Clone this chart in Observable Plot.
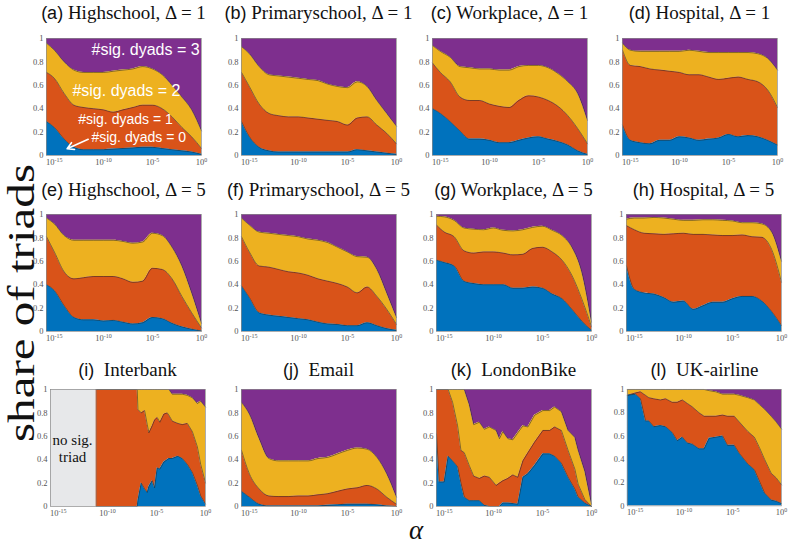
<!DOCTYPE html>
<html><head><meta charset="utf-8">
<script src="https://cdn.jsdelivr.net/npm/d3@7"></script>
<script src="https://cdn.jsdelivr.net/npm/@observablehq/plot@0.6"></script>
<style>
body{margin:0;background:#fff;}
#fig{position:relative;width:789px;height:547px;overflow:hidden;background:#fff;}
.ttl{position:absolute;font-family:"Liberation Serif",serif;font-size:19px;color:#111;white-space:pre;transform:translate(-50%,-50%);line-height:1;}
.ttl .lt{font-family:"Liberation Sans",sans-serif;font-size:18px;}
.pn{position:absolute;}
.pn svg{overflow:visible;}
</style></head><body><div id="fig"></div><script>
// ---------------- data ----------------
// common alpha grid (log10 alpha) for the smooth panels
const G = [-15.8,-15,-14,-13,-12,-11,-10,-9,-8,-7,-6,-5,-4,-3,-2,-1,0];
const xTickExps = [-15,-10,-5,0];
const yTickValues = [0,0.2,0.4,0.6,0.8,1];
const seriesNames = ["#sig. dyads = 0","#sig. dyads = 1","#sig. dyads = 2","#sig. dyads = 3"];
const panelLetters = ["(a)","(b)","(c)","(d)","(e)","(f)","(g)","(h)","(i)","(j)","(k)","(l)"];
const panelNames = ["Highschool, \u0394 = 1","Primaryschool, \u0394 = 1","Workplace, \u0394 = 1","Hospital, \u0394 = 1",
  "Highschool, \u0394 = 5","Primaryschool, \u0394 = 5","Workplace, \u0394 = 5","Hospital, \u0394 = 5",
  " Interbank"," Email"," LondonBike"," UK-airline"];
// cumulative shares: top0 = share with 0 sig. dyads, top1 = 0..1, top2 = 0..2
const aTop0=[.29,.24,.14,.07,.05,.05,.05,.055,.06,.065,.07,.07,.06,.05,.04,.03,.01];
const aTop1=[.71,.66,.53,.43,.41,.40,.39,.37,.39,.41,.43,.43,.40,.33,.24,.16,.06];
const aTop2=[.96,.90,.80,.73,.71,.71,.71,.72,.73,.74,.76,.74,.69,.60,.50,.39,.21];
const bTop0=[.29,.16,.07,.04,.03,.03,.03,.03,.03,.03,.03,.03,.05,.04,.03,.02,.01];
const bTop1=[.71,.59,.44,.36,.34,.33,.33,.32,.31,.30,.29,.26,.32,.33,.26,.19,.10];
const bTop2=[.93,.87,.76,.69,.68,.67,.66,.65,.64,.61,.59,.58,.63,.59,.47,.36,.25];
const cTop0=[.40,.36,.29,.21,.14,.14,.13,.11,.11,.13,.15,.16,.14,.12,.09,.04,.01];
const cTop1=[.79,.71,.63,.50,.47,.47,.44,.42,.41,.47,.51,.50,.47,.42,.34,.23,.10];
const cTop2=[.94,.89,.84,.76,.75,.74,.74,.73,.73,.76,.77,.77,.75,.70,.63,.53,.30];
const dTop0=[.26,.13,.11,.10,.13,.13,.16,.15,.13,.14,.15,.18,.16,.17,.16,.13,.09];
const dTop1=[.90,.77,.76,.74,.73,.72,.71,.69,.69,.67,.65,.66,.67,.65,.63,.56,.41];
const dTop2=[.96,.90,.89,.89,.89,.89,.89,.90,.89,.88,.88,.88,.88,.88,.87,.83,.73];
const eTop0=[.40,.35,.22,.12,.10,.10,.09,.095,.08,.065,.075,.12,.11,.07,.04,.02,.005];
const eTop1=[.81,.68,.51,.45,.46,.47,.47,.47,.45,.42,.43,.54,.53,.45,.30,.16,.03];
const eTop2=[.97,.92,.82,.78,.78,.78,.78,.78,.77,.755,.765,.84,.82,.72,.56,.33,.07];
const fTop0=[.39,.29,.16,.14,.13,.12,.11,.10,.08,.065,.06,.05,.05,.075,.05,.025,.01];
const fTop1=[.81,.68,.56,.55,.53,.51,.50,.48,.45,.43,.41,.38,.33,.38,.30,.19,.06];
const fTop2=[.97,.91,.85,.84,.83,.82,.81,.79,.78,.76,.72,.68,.64,.635,.53,.33,.12];
const gTop0=[.61,.59,.56,.43,.41,.40,.40,.40,.37,.37,.38,.37,.32,.28,.19,.09,.01];
const gTop1=[.91,.85,.81,.69,.67,.68,.68,.67,.655,.66,.71,.72,.68,.61,.48,.28,.04];
const gTop2=[.985,.98,.95,.885,.875,.87,.885,.865,.86,.87,.89,.90,.865,.82,.72,.51,.08];
const hTop0=[.56,.36,.33,.32,.29,.25,.26,.19,.22,.25,.25,.28,.30,.30,.26,.17,.05];
const hTop1=[.905,.87,.84,.835,.83,.835,.84,.83,.83,.825,.82,.82,.825,.81,.805,.70,.42];
const hTop2=[.96,.97,.97,.975,.97,.96,.95,.95,.955,.955,.95,.945,.93,.93,.92,.85,.60];
const iAlpha=[-11.14,-6.96,-6.89,-6.55,-6.21,-5.94,-5.77,-5.43,-5.19,-4.92,-4.65,-4.24,-3.90,-3.73,-3.39,-2.81,-2.36,-1.85,-1.34,-0.83,-0.49,0];
const iTop0=[0,0,.05,.20,.15,.12,.17,.22,.16,.33,.32,.38,.40,.41,.41,.43,.41,.36,.29,.18,.09,.02];
const iTop1=[1,1,.83,.80,.82,.70,.63,.69,.74,.76,.72,.79,.80,.78,.73,.71,.70,.71,.64,.51,.36,.20];
const iTop2=[1,1,1,1,1,1,1,1,1,1,1,1,1,1,.96,.96,.96,.95,.93,.88,.90,.85];
const noSigEnd = -11.14;
const jTop0=[.13,.08,.02,.005,.005,.005,.005,.005,.005,.01,.015,.02,.02,.02,.015,.005,0];
const jTop1=[.48,.28,.15,.09,.085,.085,.09,.09,.10,.11,.13,.15,.16,.18,.15,.08,.02];
const jTop2=[.89,.79,.58,.41,.39,.39,.39,.39,.41,.42,.45,.48,.50,.49,.42,.28,.08];
const kAlpha=[-15.8,-15.53,-15.02,-14.61,-14.16,-13.65,-13.31,-12.97,-12.46,-12.01,-11.43,-10.92,-10.41,-9.72,-9.38,-9.04,-8.53,-8.02,-7.51,-6.99,-6.48,-5.80,-4.95,-4.26,-3.75,-3.07,-2.39,-1.70,-1.36,-0.68,0];
const kTop0=[.62,.21,.21,.43,.39,.34,.20,.08,.05,.05,.05,.01,0,0,0,.03,.03,.025,.02,.25,.28,.35,.45,.45,.43,.37,.25,.15,.08,.03,0];
const kTop1=[1,1,1,1,.89,.69,.48,.46,.35,.26,.24,.26,.25,.18,.20,.22,.24,.27,.25,.39,.46,.55,.65,.65,.68,.65,.48,.32,.19,.06,0];
const kTop2=[1,1,1,1,1,1,1,1,.87,.70,.72,.66,.68,.65,.58,.64,.58,.57,.63,.69,.68,.78,.82,.82,.85,.81,.65,.59,.48,.30,.02];
const lAlpha=[-15.8,-14.98,-14.46,-13.94,-13.60,-13.09,-12.40,-11.88,-11.20,-10.68,-10.16,-9.65,-9.13,-8.45,-7.93,-7.42,-6.73,-6.04,-5.53,-4.84,-4.32,-3.46,-2.78,-2.26,-1.74,-1.06,-0.54,0];
const lTop0=[.95,.96,.92,.73,.73,.68,.69,.68,.63,.56,.59,.54,.53,.49,.49,.58,.59,.60,.52,.52,.45,.36,.31,.21,.11,.05,.04,.02];
const lTop1=[.95,.97,.98,.95,.93,.92,.91,.92,.89,.89,.91,.88,.85,.80,.77,.77,.77,.78,.77,.77,.72,.64,.59,.50,.40,.28,.24,.18];
const lTop2=[1,1,1,1,1,1,1,1,1,1,1,1,1,1,1,.99,.98,.96,.96,.96,.95,.93,.91,.87,.83,.77,.72,.66];
// annotations of panel (a): [text, log10 alpha, share]
const annoBig = [["#sig. dyads = 3",-5.7,0.905],["#sig. dyads = 2",-7.65,0.556]];
const annoSmall = [["#sig. dyads = 1",-7.75,0.31],["#sig. dyads = 0",-6.4,0.155]];
const annoArrow = [-11.55,0.138,-13.7,0.058];

// ---------------- layout / style ----------------
const colors = ["#0072BD","#D95319","#EDB120","#7E2F8E"];
const panelLeft = [46,241,432,622, 46,241,436,626, 50,241,436,627];
const rowTop = [38,214,389];
const titleY = [12,189,369];
const PW = 155, PH = 117, mL = 30, mR = 8, mT = 4, mB = 16;

const panels = [
  [G,aTop0,aTop1,aTop2],[G,bTop0,bTop1,bTop2],[G,cTop0,cTop1,cTop2],[G,dTop0,dTop1,dTop2],
  [G,eTop0,eTop1,eTop2],[G,fTop0,fTop1,fTop2],[G,gTop0,gTop1,gTop2],[G,hTop0,hTop1,hTop2],
  [iAlpha,iTop0,iTop1,iTop2],[G,jTop0,jTop1,jTop2],[kAlpha,kTop0,kTop1,kTop2],[lAlpha,lTop0,lTop1,lTop2]
];
const jagged = new Set([8,10,11]);
const fig = document.getElementById("fig");
const ns = "http://www.w3.org/2000/svg";

panels.forEach(([xs,t0,t1,t2], p) => {
  const rows = xs.map((e,i) => ({a: 10**e, t0: t0[i], t1: t1[i], t2: t2[i], top: 1, bot: 0}));
  const curve = jagged.has(p) ? "linear" : "monotone-x";
  const marks = [];
  if (p === 8) {
    marks.push(Plot.rect([{x1: 10**-15.8, x2: 10**noSigEnd}], {x1:"x1", x2:"x2", y1:0, y2:1, fill:"#e7e8ea"}));
  }
  marks.push(
    Plot.areaY(rows, {x:"a", y1:"t2", y2:"top", fill: colors[3], curve}),
    Plot.areaY(rows, {x:"a", y1:"t1", y2:"t2", fill: colors[2], curve}),
    Plot.areaY(rows, {x:"a", y1:"t0", y2:"t1", fill: colors[1], curve}),
    Plot.areaY(rows, {x:"a", y1:"bot", y2:"t0", fill: colors[0], curve}),
    Plot.lineY(rows, {x:"a", y:"t2", stroke:"#2a2a2a", strokeWidth:0.55, curve}),
    Plot.lineY(rows, {x:"a", y:"t1", stroke:"#2a2a2a", strokeWidth:0.55, curve}),
    Plot.lineY(rows, {x:"a", y:"t0", stroke:"#2a2a2a", strokeWidth:0.55, curve})
  );
  if (p === 8) {
    marks.push(Plot.ruleX([10**noSigEnd], {y1:0, y2:1, stroke:"#777", strokeWidth:0.6}));
    marks.push(Plot.text([{e:-13.55, s:0.5, t:"no sig.\ntriad"}], {x: d=>10**d.e, y:"s", text:"t", fontSize:15, fontFamily:"Liberation Serif", fill:"#111", lineHeight:1.1}));
  }
  if (p === 0) {
    marks.push(Plot.text(annoBig, {x: d=>10**d[1], y: d=>d[2], text: d=>d[0], fill:"white", fontSize:16, fontFamily:"Liberation Sans"}));
    marks.push(Plot.text(annoSmall, {x: d=>10**d[1], y: d=>d[2], text: d=>d[0], fill:"white", fontSize:14, fontFamily:"Liberation Sans"}));
    marks.push(Plot.arrow([annoArrow], {x1: d=>10**d[0], y1: d=>d[1], x2: d=>10**d[2], y2: d=>d[3], stroke:"white", strokeWidth:1.6, headLength:7}));
  }
  marks.push(Plot.frame({stroke:"#8a8a8a", strokeWidth:0.7}));

  const svg = Plot.plot({
    width: PW + mL + mR, height: PH + mT + mB,
    marginLeft: mL, marginRight: mR, marginTop: mT, marginBottom: mB,
    style: {fontFamily: "Liberation Serif, serif", fontSize: "8.5px", color: "#555", background: "transparent", overflow: "visible"},
    x: {type: "log", domain: [10**-15.8, 1], ticks: xTickExps.map(e => 10**e), tickFormat: d => "10^" + Math.round(Math.log10(d)), tickSize: 0, tickPadding: 3, label: null},
    y: {domain: [0, 1], ticks: yTickValues, tickFormat: d => d === 0 ? "0" : d === 1 ? "1" : d.toFixed(1), tickSize: 0, tickPadding: 3, label: null},
    marks
  });
  // render exponents as superscripts
  svg.querySelectorAll("text").forEach(t => {
    const s = t.textContent;
    if (/^10\^-?\d+$/.test(s)) {
      const ex = s.split("^")[1];
      t.textContent = "";
      const a = document.createElementNS(ns, "tspan"); a.textContent = "10"; t.appendChild(a);
      const b = document.createElementNS(ns, "tspan"); b.textContent = ex; b.setAttribute("dy", "-3"); b.setAttribute("font-size", "6"); t.appendChild(b);
    }
  });
  const row = Math.floor(p / 4);
  const wrap = document.createElement("div");
  wrap.className = "pn";
  wrap.style.left = (panelLeft[p] - mL) + "px";
  wrap.style.top = (rowTop[row] - mT) + "px";
  wrap.appendChild(svg);
  fig.appendChild(wrap);

  const tt = document.createElement("div");
  tt.className = "ttl";
  tt.style.left = (panelLeft[p] + PW / 2) + "px";
  tt.style.top = titleY[row] + "px";
  tt.innerHTML = `<span class="lt">${panelLetters[p]}</span> ${panelNames[p]}`;
  fig.appendChild(tt);
});

// axis titles
const lab = document.createElementNS(ns, "svg");
lab.setAttribute("width", 789); lab.setAttribute("height", 547);
lab.style.position = "absolute"; lab.style.left = "0"; lab.style.top = "0"; lab.style.pointerEvents = "none";
const yl = document.createElementNS(ns, "text");
yl.textContent = "share of triads";
yl.setAttribute("transform", "translate(34,303) rotate(-90)");
yl.setAttribute("text-anchor", "middle");
yl.setAttribute("font-family", "Liberation Serif, serif");
yl.setAttribute("font-size", "37");
yl.setAttribute("textLength", "278");
yl.setAttribute("lengthAdjust", "spacingAndGlyphs");
yl.setAttribute("fill", "#111");
lab.appendChild(yl);
const xl = document.createElementNS(ns, "text");
xl.textContent = "\u03B1";
xl.setAttribute("x", 416); xl.setAttribute("y", 539);
xl.setAttribute("text-anchor", "middle");
xl.setAttribute("font-family", "Liberation Serif, serif");
xl.setAttribute("font-style", "italic");
xl.setAttribute("font-size", "27");
xl.setAttribute("fill", "#111");
lab.appendChild(xl);
fig.appendChild(lab);
</script></body></html>
